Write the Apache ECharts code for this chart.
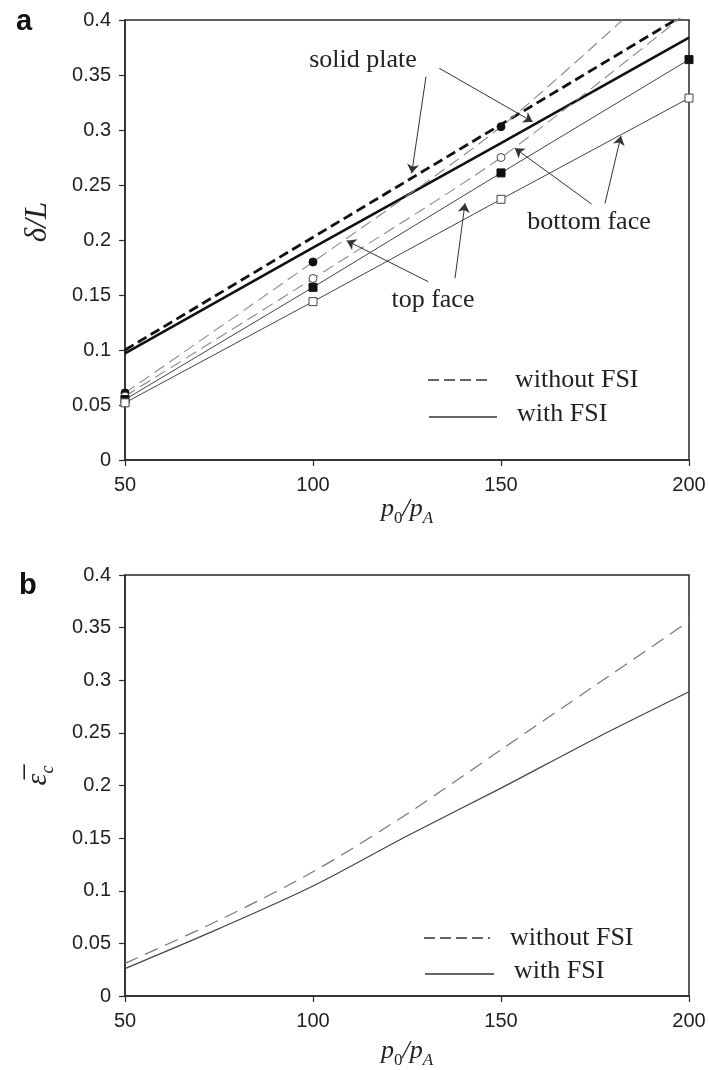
<!DOCTYPE html>
<html>
<head>
<meta charset="utf-8">
<script src="https://cdn.jsdelivr.net/npm/echarts@6/dist/echarts.min.js"></script>
<style>
  html, body { margin: 0; padding: 0; background: #fff; }
  #chart { width: 709px; height: 1070px; }
</style>
</head>
<body>
<div id="chart"></div>
<script>
// (a) non-dimensional deflection vs. peak pressure ratio
const pressureRatio = [50, 100, 150, 200];
const plateNoFSI = [0.100, 0.2025, 0.305, 0.4075];
const plateFSI = [0.097, 0.193, 0.288, 0.384];
const topFaceNoFSI = [0.061, 0.180, 0.303, 0.455];
const bottomFaceNoFSI = [0.058, 0.165, 0.275, 0.408];
const topFaceFSI = [0.055, 0.157, 0.261, 0.364];
const bottomFaceFSI = [0.052, 0.144, 0.237, 0.329];

// (b) mean core compressive strain vs. peak pressure ratio
const strainRatio = [50, 75, 100, 125, 150, 175, 200];
const strainNoFSI = [0.031, 0.072, 0.118, 0.173, 0.234, 0.295, 0.356];
const strainFSI = [0.026, 0.064, 0.1045, 0.152, 0.1975, 0.2445, 0.289];

// axis ranges
const xRange = { min: 50, max: 200, step: 50 };
const yRange = { min: 0, max: 0.4, step: 0.05 };

// callout arrows for panel (a), in data units: [from, to]
const calloutArrows = [
  [[130.05, 0.3485], [126.25, 0.2606]],
  [[133.6, 0.3561], [158.4, 0.3075]],
  [[174.1, 0.2327], [153.7, 0.2834]],
  [[177.66, 0.2333], [181.9, 0.2945]],
  [[130.65, 0.1621], [108.96, 0.1994]],
  [[137.77, 0.1652], [140.43, 0.2334]]
];
// callout texts for panel (a), in data units
const calloutTexts = [
  { name: 'solid plate', coord: [113.3, 0.3636] },
  { name: 'bottom face', coord: [173.4, 0.2164] },
  { name: 'top face', coord: [131.9, 0.1455] }
];

const serif = 'Liberation Serif, Times New Roman, serif';
const sans = 'Liberation Sans, Arial, sans-serif';
const axisColor = '#2a2a2a';

function pairs(xs, ys) { return xs.map((x, i) => [x, ys[i]]); }

function xAxisFor(gridIndex, nameGap) {
  return {
    type: 'value', gridIndex,
    min: xRange.min, max: xRange.max, interval: xRange.step,
    name: '{i|p}{s|0}{i|/p}{t|A}',
    nameLocation: 'middle', nameGap,
    nameTextStyle: {
      rich: {
        i: { fontFamily: serif, fontStyle: 'italic', fontSize: 26, color: '#222', verticalAlign: 'top', lineHeight: 30 },
        s: { fontFamily: serif, fontSize: 17, color: '#222', verticalAlign: 'top', lineHeight: 20, padding: [14, 0, 0, 0] },
        t: { fontFamily: serif, fontStyle: 'italic', fontSize: 17, color: '#222', verticalAlign: 'top', lineHeight: 20, padding: [14, 0, 0, 0] }
      }
    },
    axisLine: { show: true, onZero: false, lineStyle: { color: axisColor, width: 1.5 } },
    axisTick: { show: true, inside: false, length: 6, lineStyle: { color: axisColor, width: 1.2 } },
    axisLabel: { fontFamily: sans, fontSize: 20, color: '#222', margin: 15 },
    splitLine: { show: false }
  };
}

function yAxisFor(gridIndex, name, rich, nameGap, pad) {
  return {
    type: 'value', gridIndex,
    min: yRange.min, max: yRange.max, interval: yRange.step,
    name, nameLocation: 'middle', nameGap,
    nameTextStyle: { rich, padding: pad },
    axisLine: { show: true, onZero: false, lineStyle: { color: axisColor, width: 1.5 } },
    axisTick: { show: true, inside: false, length: 6, lineStyle: { color: axisColor, width: 1.2 } },
    axisLabel: { fontFamily: sans, fontSize: 20, color: '#222', margin: 14 },
    splitLine: { show: false }
  };
}

function legendGraphics(dashY, solidY, dashX, solidX, textX1, textX2) {
  return [
    { type: 'line', shape: { x1: dashX[0], y1: dashY, x2: dashX[1], y2: dashY },
      style: { stroke: '#333', lineWidth: 1.3, lineDash: [11, 5] } },
    { type: 'text', x: textX1, y: dashY,
      style: { text: 'without FSI', fontFamily: serif, fontSize: 26, fill: '#222', verticalAlign: 'middle' } },
    { type: 'line', shape: { x1: solidX[0], y1: solidY, x2: solidX[1], y2: solidY },
      style: { stroke: '#333', lineWidth: 1.3 } },
    { type: 'text', x: textX2, y: solidY - 3,
      style: { text: 'with FSI', fontFamily: serif, fontSize: 26, fill: '#222', verticalAlign: 'middle' } }
  ];
}

const chart = echarts.init(document.getElementById('chart'), null, { renderer: 'canvas' });

const option = {
  animation: false,
  backgroundColor: '#fff',
  grid: [
    { left: 125, top: 20, width: 564, height: 440, show: true, borderColor: axisColor, borderWidth: 1.5, backgroundColor: 'transparent' },
    { left: 125, top: 575, width: 564, height: 431, show: true, borderColor: axisColor, borderWidth: 1.5, backgroundColor: 'transparent' }
  ],
  xAxis: [xAxisFor(0, 30), xAxisFor(1, 42)],
  yAxis: [
    yAxisFor(0, '{i|δ/L}', {
      i: { fontFamily: serif, fontStyle: 'italic', fontSize: 31, color: '#222' }
    }, 72, [0, 0, 0, 36]),
    yAxisFor(1, '{e|ε\u0305}{c|c}', {
      e: { fontFamily: serif, fontStyle: 'italic', fontSize: 30, color: '#222', verticalAlign: 'top', lineHeight: 32 },
      c: { fontFamily: serif, fontStyle: 'italic', fontSize: 18, color: '#222', verticalAlign: 'top', lineHeight: 20, padding: [16, 0, 0, 0] }
    }, 70, [0, 0, 0, 20])
  ],
  graphic: [
    { type: 'text', x: 16, y: 22, style: { text: 'a', fontFamily: sans, fontWeight: 'bold', fontSize: 29, fill: '#111', verticalAlign: 'middle' } },
    { type: 'text', x: 19, y: 586, style: { text: 'b', fontFamily: sans, fontWeight: 'bold', fontSize: 29, fill: '#111', verticalAlign: 'middle' } },
    ...legendGraphics(380, 417, [428, 492], [429, 497], 515, 517),
    ...legendGraphics(938, 974, [424, 490], [425, 494], 510, 514)
  ],
  series: [
    {
      name: 'solid plate, without FSI', type: 'line', xAxisIndex: 0, yAxisIndex: 0,
      data: pairs(pressureRatio, plateNoFSI), showSymbol: false, z: 3,
      lineStyle: { color: '#111', width: 2.8, type: [10, 5] }
    },
    {
      name: 'solid plate, with FSI', type: 'line', xAxisIndex: 0, yAxisIndex: 0,
      data: pairs(pressureRatio, plateFSI), showSymbol: false, z: 3,
      lineStyle: { color: '#111', width: 2.6 },
      markLine: {
        silent: true, symbol: ['none', 'arrow'], symbolSize: 9,
        label: { show: false },
        itemStyle: { color: '#333' },
        lineStyle: { color: '#333', width: 1, type: 'solid' },
        emphasis: { disabled: true },
        data: calloutArrows.map(([a, b]) => [{ coord: a }, { coord: b }])
      },
      markPoint: {
        silent: true, symbol: 'circle', symbolSize: 1,
        itemStyle: { color: 'rgba(0,0,0,0)' },
        label: { show: true, position: 'inside', formatter: '{b}', fontFamily: serif, fontSize: 26, color: '#222' },
        data: calloutTexts.map(t => ({ name: t.name, coord: t.coord }))
      }
    },
    {
      name: 'top face, without FSI', type: 'line', xAxisIndex: 0, yAxisIndex: 0,
      data: pairs(pressureRatio, topFaceNoFSI), smooth: 0.25, z: 4,
      symbol: 'circle', symbolSize: 8, showAllSymbol: true,
      lineStyle: { color: '#8a8a8a', width: 1.1, type: [12, 6] },
      itemStyle: { color: '#111', borderColor: '#111', borderWidth: 1 }
    },
    {
      name: 'bottom face, without FSI', type: 'line', xAxisIndex: 0, yAxisIndex: 0,
      data: pairs(pressureRatio, bottomFaceNoFSI), smooth: 0.25, z: 4,
      symbol: 'circle', symbolSize: 8, showAllSymbol: true,
      lineStyle: { color: '#8a8a8a', width: 1.1, type: [12, 6] },
      itemStyle: { color: '#fff', borderColor: '#444', borderWidth: 1 }
    },
    {
      name: 'top face, with FSI', type: 'line', xAxisIndex: 0, yAxisIndex: 0,
      data: pairs(pressureRatio, topFaceFSI), z: 4,
      symbol: 'rect', symbolSize: 8, showAllSymbol: true,
      lineStyle: { color: '#444', width: 1 },
      itemStyle: { color: '#111', borderColor: '#111', borderWidth: 1 }
    },
    {
      name: 'bottom face, with FSI', type: 'line', xAxisIndex: 0, yAxisIndex: 0,
      data: pairs(pressureRatio, bottomFaceFSI), z: 4,
      symbol: 'rect', symbolSize: 8, showAllSymbol: true,
      lineStyle: { color: '#444', width: 1 },
      itemStyle: { color: '#fff', borderColor: '#444', borderWidth: 1 }
    },
    {
      name: 'without FSI', type: 'line', xAxisIndex: 1, yAxisIndex: 1,
      data: pairs(strainRatio, strainNoFSI), smooth: 0.3, showSymbol: false,
      lineStyle: { color: '#777', width: 1.2, type: [14, 8] }
    },
    {
      name: 'with FSI', type: 'line', xAxisIndex: 1, yAxisIndex: 1,
      data: pairs(strainRatio, strainFSI), smooth: 0.3, showSymbol: false,
      lineStyle: { color: '#444', width: 1.2 }
    }
  ]
};

chart.setOption(option);
</script>
</body>
</html>
